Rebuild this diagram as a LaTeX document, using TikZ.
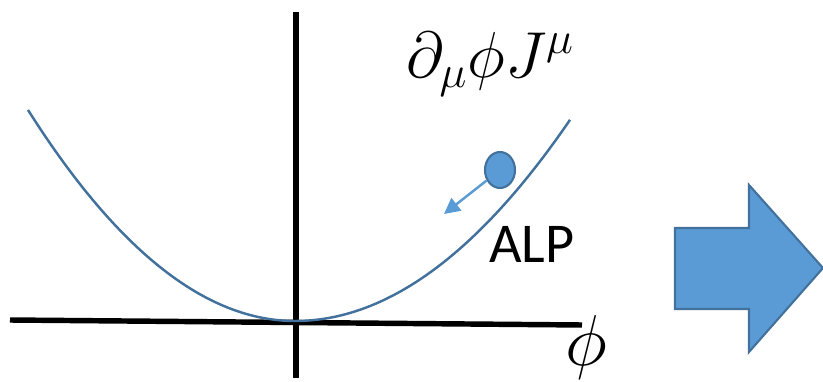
\RequirePackage{fix-cm}
\documentclass[tikz,border=0pt]{standalone}
\usepackage{amsmath}
\usepackage{fontspec}
\usepackage{tikz}
\usetikzlibrary{arrows.meta,shapes.geometric,positioning}
\newfontfamily\alpfont{Carlito}
\definecolor{alpblue}{HTML}{5B9BD5}
\definecolor{alpedge}{HTML}{41719C}
\tikzset{
  every picture/.style={draw=black, text=black},
  axisline/.style={draw=black, line width=3.1pt},
  potential/.style={draw=alpedge, line width=1.4pt},
}

\begin{document}
\begin{tikzpicture}[x=0.02cm, y=-0.02cm]
\useasboundingbox (0,0) rectangle (823,382);
% Axes of the potential
\coordinate (xl) at (10,320);
\coordinate (xr) at (582,325);
\coordinate (yt) at (296,12);
\coordinate (yb) at (296,378);
\draw[axisline] (xl) -- (xr);
\draw[axisline] (yt) -- (yb);
% Potential well, slightly steeper on the left
\draw[potential] plot[domain=28:295, samples=60] (\x, {321-(0.05441*(\x-295))^2});
\draw[potential] plot[domain=295:570, samples=60] (\x, {321-(0.05158*(\x-295))^2});
% Field rolling down
\node[ellipse, fill=alpblue, draw=alpedge, line width=1.2pt, inner sep=0pt,
  minimum width=0.6cm, minimum height=0.72cm] (ball) at (500,170) {};
\coordinate (push) at (444,214);
\draw[alpblue, line width=1.4pt, -{Triangle[length=9pt, width=9pt]}] (ball) -- (push);
% Labels
\node (coupling) at (490,64) {\fontsize{37}{44}\selectfont $\partial_\mu\phi J^\mu$};
\node (alp) at (532,244) {\alpfont\fontsize{32}{38}\selectfont ALP};
\node (field) at (586,347) {\fontsize{41}{48}\selectfont $\phi$};
% Block arrow to the right
\draw[fill=alpblue, draw=alpedge, line width=1.2pt]
  (675,228) -- (749,228) -- (749,185) -- (823,268)
  -- (749,352) -- (749,309) -- (675,309) -- cycle;
\end{tikzpicture}
\end{document}
